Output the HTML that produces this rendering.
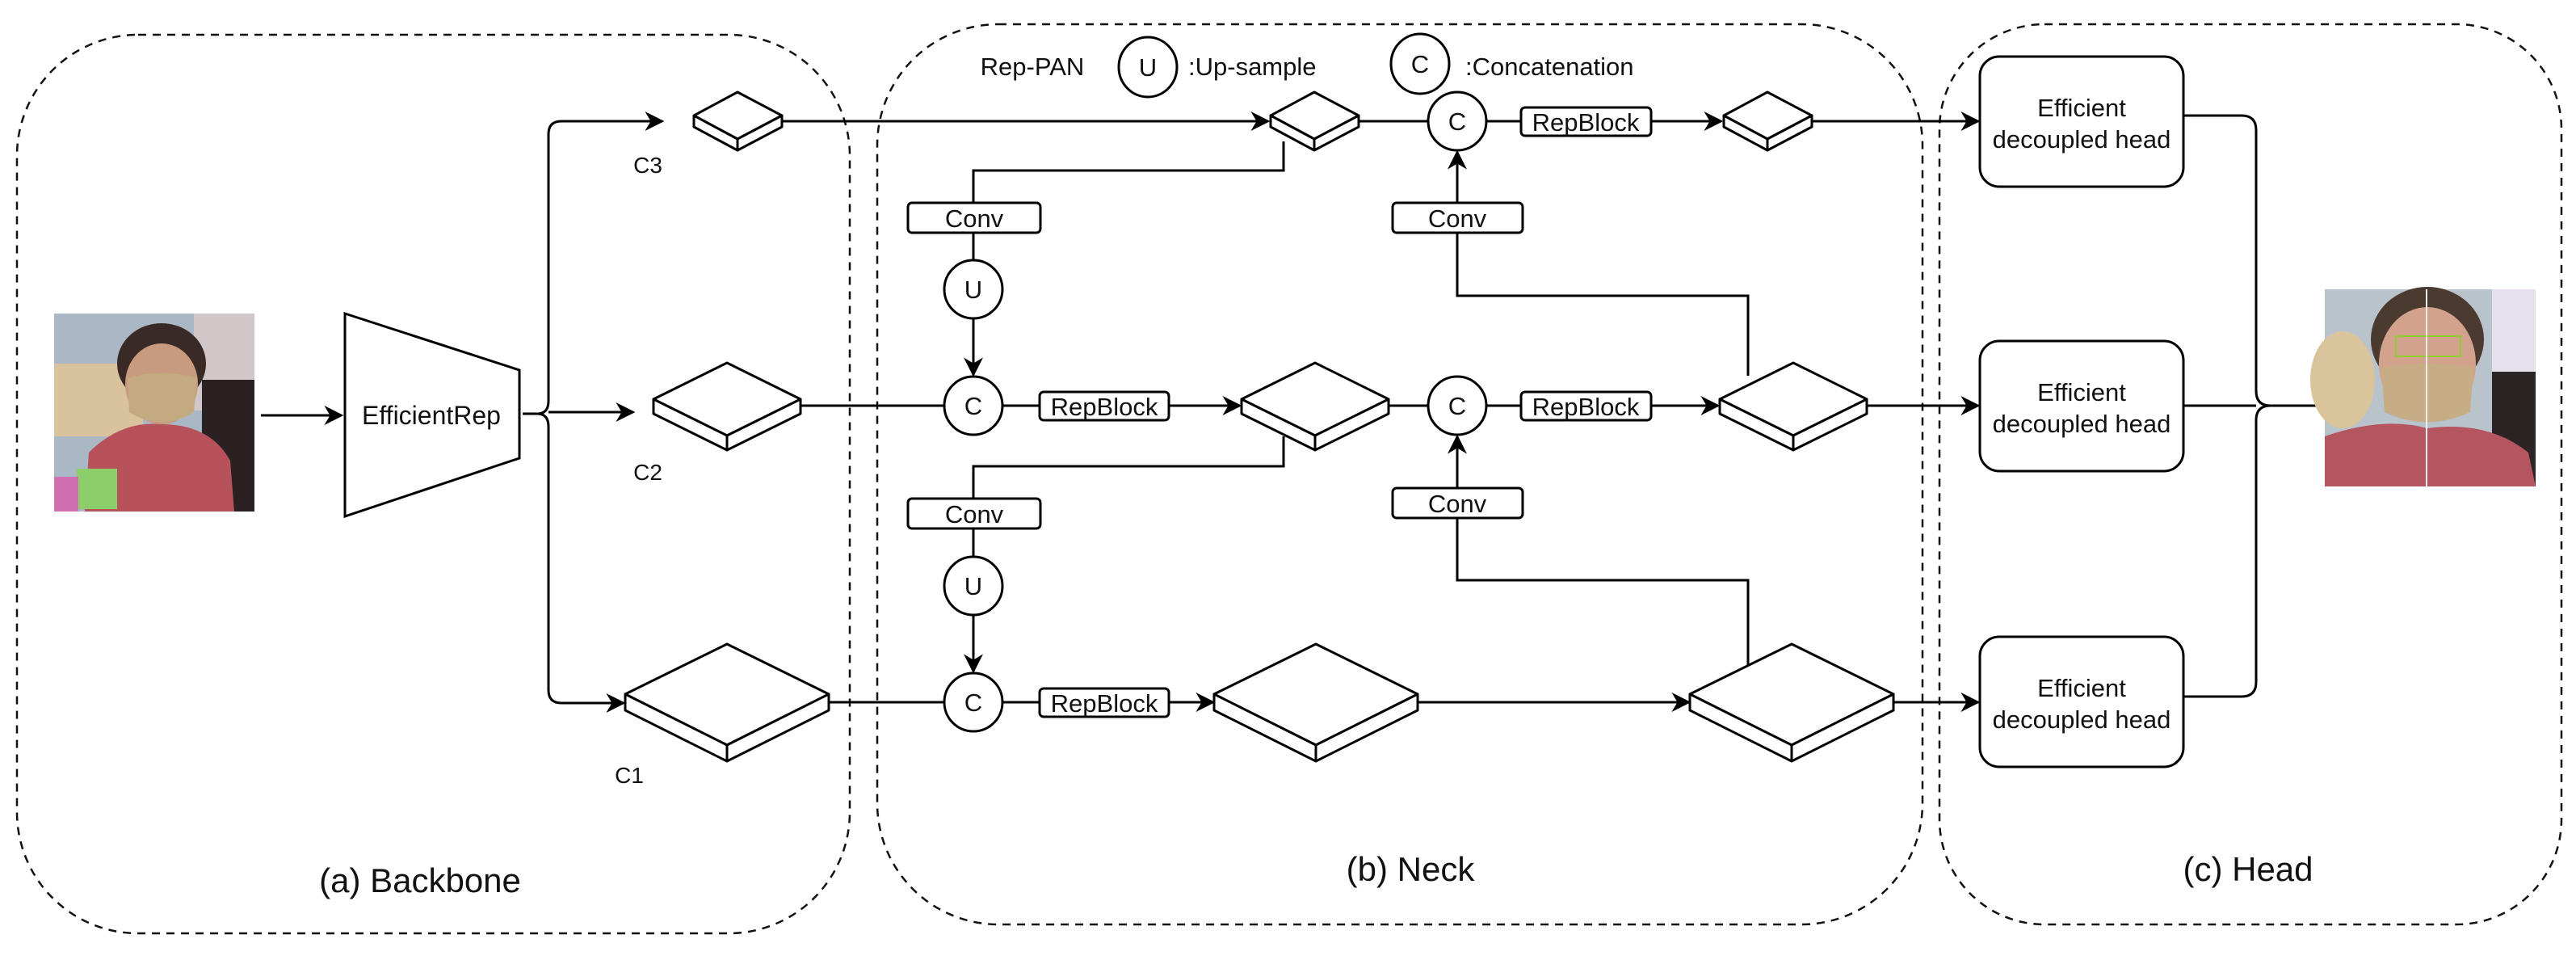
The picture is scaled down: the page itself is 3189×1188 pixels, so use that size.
<!DOCTYPE html>
<html><head><meta charset="utf-8"><style>
html,body{margin:0;padding:0;background:#fff;}
svg{display:block;}
text{font-family:"Liberation Sans",sans-serif;fill:#111;}
</style></head><body>
<svg width="3189" height="1188" viewBox="0 0 3189 1188" xmlns="http://www.w3.org/2000/svg">
<defs>
<marker id="a" viewBox="0 0 20 20" refX="18" refY="10" markerWidth="24" markerHeight="24" markerUnits="userSpaceOnUse" orient="auto">
<path d="M0,0 L20,10 L0,20 L6,10 Z" fill="#000"/></marker>
</defs>
<rect width="3189" height="1188" fill="#fff"/>
<!-- group boxes -->
<g fill="none" stroke="#111" stroke-width="2.5" stroke-dasharray="10,8">
<rect x="21" y="43" width="1031" height="1112" rx="150"/>
<rect x="1086" y="30" width="1294" height="1114" rx="150"/>
<rect x="2401" y="30" width="770" height="1114" rx="130"/>
</g>
<text x="520" y="1104" font-size="42" text-anchor="middle">(a) Backbone</text>
<text x="1746" y="1090" font-size="42" text-anchor="middle">(b) Neck</text>
<text x="2783" y="1090" font-size="42" text-anchor="middle">(c) Head</text>

<!-- input image -->
<g>
<rect x="67" y="388" width="248" height="245" fill="#a9b8c4"/>
<rect x="67" y="450" width="110" height="90" fill="#d8c39c"/>
<rect x="240" y="388" width="75" height="120" fill="#cfc7c8"/>
<rect x="250" y="470" width="65" height="163" fill="#2a2222"/>
<ellipse cx="200" cy="450" rx="55" ry="50" fill="#3a2a26"/>
<ellipse cx="200" cy="475" rx="45" ry="50" fill="#c89a80"/>
<path d="M158 468 Q200 455 244 468 L240 510 Q200 535 160 510 Z" fill="#c4aa80"/>
<path d="M110 560 Q150 520 200 525 Q260 525 285 570 L290 633 L105 633 Z" fill="#b8525a"/>
<rect x="95" y="580" width="50" height="50" fill="#8ccf6a"/>
<rect x="67" y="590" width="30" height="43" fill="#d070b0"/>
</g>
<line x1="323" y1="514" x2="423" y2="514" stroke="#000" stroke-width="3" marker-end="url(#a)"/>
<polygon points="427,388 643,458 643,567 427,639" fill="#fff" stroke="#000" stroke-width="3"/>
<text x="534" y="525" font-size="32" text-anchor="middle">EfficientRep</text>

<g fill="none" stroke="#000" stroke-width="3">
<path d="M647 512 L665 512 Q679 512 679 496 L679 166 Q679 150 695 150 L820 150" marker-end="url(#a)"/>
<path d="M665 512 Q679 512 679 528 L679 854 Q679 870 695 870 L772 870" marker-end="url(#a)"/>
<path d="M679 510 L784 510" marker-end="url(#a)"/>
</g>
<text x="802" y="214" font-size="28" text-anchor="middle">C3</text>
<text x="802" y="594" font-size="28" text-anchor="middle">C2</text>
<text x="779" y="969" font-size="28" text-anchor="middle">C1</text>

<!-- connectors -->
<g fill="none" stroke="#000" stroke-width="3">
<line x1="968" y1="150" x2="1570" y2="150" marker-end="url(#a)"/>
<line x1="991" y1="502" x2="1169" y2="502"/>
<line x1="1026" y1="869" x2="1169" y2="869"/>
<line x1="1682" y1="150" x2="1768" y2="150"/>
<line x1="1840" y1="150" x2="1883" y2="150"/>
<line x1="2044" y1="150" x2="2131" y2="150" marker-end="url(#a)"/>
<line x1="2243" y1="150" x2="2449" y2="150" marker-end="url(#a)"/>
<line x1="1241" y1="502" x2="1287" y2="502"/>
<line x1="1447" y1="502" x2="1535" y2="502" marker-end="url(#a)"/>
<line x1="1718" y1="502" x2="1768" y2="502"/>
<line x1="1840" y1="502" x2="1883" y2="502"/>
<line x1="2044" y1="502" x2="2127" y2="502" marker-end="url(#a)"/>
<line x1="2307" y1="502" x2="2449" y2="502" marker-end="url(#a)"/>
<line x1="1241" y1="869" x2="1287" y2="869"/>
<line x1="1447" y1="869" x2="1502" y2="869" marker-end="url(#a)"/>
<line x1="1753" y1="869" x2="2091" y2="869" marker-end="url(#a)"/>
<line x1="2342" y1="869" x2="2449" y2="869" marker-end="url(#a)"/>
<!-- top-down -->
<path d="M1589 175 L1589 211 L1205 211 L1205 250"/>
<line x1="1205" y1="288" x2="1205" y2="322"/>
<line x1="1205" y1="394" x2="1205" y2="464" marker-end="url(#a)"/>
<path d="M1589 540 L1589 577 L1205 577 L1205 617"/>
<line x1="1205" y1="655" x2="1205" y2="689"/>
<line x1="1205" y1="761" x2="1205" y2="831" marker-end="url(#a)"/>
<!-- bottom-up -->
<path d="M2164 465 L2164 366 L1804 366 L1804 288"/>
<line x1="1804" y1="252" x2="1804" y2="188" marker-end="url(#a)"/>
<path d="M2164 830 L2164 718 L1804 718 L1804 640"/>
<line x1="1804" y1="604" x2="1804" y2="540" marker-end="url(#a)"/>
</g>

<!-- diamonds -->
<g fill="#fff" stroke="#000" stroke-width="3" stroke-linejoin="round">
<!-- template: top face + side -->
<g id="d1">
<path d="M859 143 L913 114 L968 143 L913 172 Z"/>
<path d="M859 143 L859 157 L913 186 L968 157 L968 143 L913 172 Z"/>
<line x1="913" y1="172" x2="913" y2="186"/>
</g>
<g transform="translate(714,0)"><path d="M859 143 L913 114 L968 143 L913 172 Z"/><path d="M859 143 L859 157 L913 186 L968 157 L968 143 L913 172 Z"/><line x1="913" y1="172" x2="913" y2="186"/></g>
<g transform="translate(1275,0)"><path d="M859 143 L913 114 L968 143 L913 172 Z"/><path d="M859 143 L859 157 L913 186 L968 157 L968 143 L913 172 Z"/><line x1="913" y1="172" x2="913" y2="186"/></g>
<!-- mid -->
<g id="m"><path d="M809 494 L900 449 L991 494 L900 539 Z"/><path d="M809 494 L809 512 L900 557 L991 512 L991 494 L900 539 Z"/><line x1="900" y1="539" x2="900" y2="557"/></g>
<g transform="translate(728,0)"><path d="M809 494 L900 449 L991 494 L900 539 Z"/><path d="M809 494 L809 512 L900 557 L991 512 L991 494 L900 539 Z"/><line x1="900" y1="539" x2="900" y2="557"/></g>
<g transform="translate(1320,0)"><path d="M809 494 L900 449 L991 494 L900 539 Z"/><path d="M809 494 L809 512 L900 557 L991 512 L991 494 L900 539 Z"/><line x1="900" y1="539" x2="900" y2="557"/></g>
<!-- big -->
<g><path d="M774 859 L900 797 L1026 859 L900 922 Z"/><path d="M774 859 L774 879 L900 942 L1026 879 L1026 859 L900 922 Z"/><line x1="900" y1="922" x2="900" y2="942"/></g>
<g transform="translate(729,0)"><path d="M774 859 L900 797 L1026 859 L900 922 Z"/><path d="M774 859 L774 879 L900 942 L1026 879 L1026 859 L900 922 Z"/><line x1="900" y1="922" x2="900" y2="942"/></g>
<g transform="translate(1318,0)"><path d="M774 859 L900 797 L1026 859 L900 922 Z"/><path d="M774 859 L774 879 L900 942 L1026 879 L1026 859 L900 922 Z"/><line x1="900" y1="922" x2="900" y2="942"/></g>
</g>

<!-- circles -->
<g fill="#fff" stroke="#000" stroke-width="3">
<ellipse cx="1421" cy="83" rx="36" ry="37"/>
<ellipse cx="1758" cy="79" rx="36" ry="37"/>
<circle cx="1804" cy="150" r="36"/>
<circle cx="1804" cy="502" r="36"/>
<circle cx="1205" cy="502" r="36"/>
<circle cx="1205" cy="869" r="36"/>
<circle cx="1205" cy="358" r="36"/>
<circle cx="1205" cy="725" r="36"/>
</g>
<g font-size="31" text-anchor="middle">
<text x="1421" y="94">U</text>
<text x="1758" y="90">C</text>
<text x="1804" y="161">C</text>
<text x="1804" y="513">C</text>
<text x="1205" y="513">C</text>
<text x="1205" y="880">C</text>
<text x="1205" y="369">U</text>
<text x="1205" y="736">U</text>
</g>
<text x="1278" y="93" font-size="31" text-anchor="middle">Rep-PAN</text>
<text x="1471" y="93" font-size="31">:Up-sample</text>
<text x="1814" y="93" font-size="31">:Concatenation</text>

<!-- boxes -->
<g fill="#fff" stroke="#000" stroke-width="3">
<rect x="1124" y="251" width="164" height="37" rx="5"/>
<rect x="1124" y="617" width="164" height="37" rx="5"/>
<rect x="1724" y="251" width="161" height="37" rx="5"/>
<rect x="1724" y="604" width="161" height="37" rx="5"/>
<rect x="1883" y="133" width="161" height="35" rx="5"/>
<rect x="1883" y="485" width="161" height="35" rx="5"/>
<rect x="1287" y="485" width="160" height="35" rx="5"/>
<rect x="1287" y="852" width="160" height="35" rx="5"/>
</g>
<g font-size="31" text-anchor="middle">
<text x="1206" y="281">Conv</text>
<text x="1206" y="647">Conv</text>
<text x="1804" y="281">Conv</text>
<text x="1804" y="634">Conv</text>
<text x="1963" y="162">RepBlock</text>
<text x="1963" y="514">RepBlock</text>
<text x="1367" y="514">RepBlock</text>
<text x="1367" y="881">RepBlock</text>
</g>

<!-- head -->
<g fill="#fff" stroke="#000" stroke-width="3">
<rect x="2451" y="70" width="252" height="161" rx="24"/>
<rect x="2451" y="422" width="252" height="161" rx="24"/>
<rect x="2451" y="788" width="252" height="161" rx="24"/>
</g>
<g font-size="31" text-anchor="middle">
<text x="2577" y="144">Efficient</text><text x="2577" y="183">decoupled head</text>
<text x="2577" y="496">Efficient</text><text x="2577" y="535">decoupled head</text>
<text x="2577" y="862">Efficient</text><text x="2577" y="901">decoupled head</text>
</g>
<g fill="none" stroke="#000" stroke-width="3">
<path d="M2703 143 L2775 143 Q2793 143 2793 161 L2793 484 Q2793 502 2811 502 L2868 502"/>
<path d="M2703 862 L2775 862 Q2793 862 2793 844 L2793 520 Q2793 502 2811 502"/>
<line x1="2703" y1="502" x2="2793" y2="502"/>
</g>
<!-- output image -->
<g>
<rect x="2878" y="358" width="261" height="244" fill="#b9c3cc"/>
<ellipse cx="2900" cy="470" rx="40" ry="60" fill="#d9c49c"/>
<rect x="3085" y="358" width="54" height="140" fill="#e6e0ea"/>
<rect x="3085" y="460" width="54" height="142" fill="#2b2424"/>
<ellipse cx="3005" cy="420" rx="70" ry="65" fill="#4a3a30"/>
<ellipse cx="3005" cy="450" rx="60" ry="70" fill="#d3a28c"/>
<path d="M2948 455 Q3005 445 3062 455 L3058 510 Q3005 535 2952 510 Z" fill="#c6ad86"/>
<path d="M2878 540 Q2950 515 3005 530 Q3080 520 3130 560 L3139 602 L2878 602 Z" fill="#b55560"/>
<rect x="2966" y="416" width="80" height="25" fill="none" stroke="#8cd030" stroke-width="2"/>
<line x1="3004" y1="358" x2="3004" y2="602" stroke="#eee" stroke-width="2"/>
</g>
</svg>
</body></html>
